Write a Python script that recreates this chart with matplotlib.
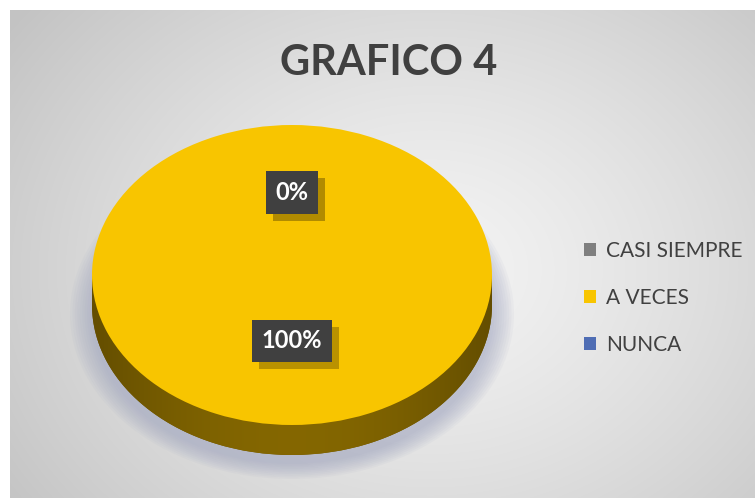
import numpy as np
import matplotlib.pyplot as plt
from matplotlib.patches import Ellipse, Rectangle
from matplotlib.path import Path
import matplotlib.patheffects as pe

# Datos del gráfico
categorias = ['CASI SIEMPRE', 'A VECES', 'NUNCA']
valores = [0, 100, 0]
colores = ['#7F7F7F', '#F8C500', '#4F6DB4']
titulo = 'GRAFICO 4'

W, H = 755, 498
fig = plt.figure(figsize=(W / 100, H / 100), dpi=100)
fig.patch.set_facecolor('white')

# Fondo con degradado radial (estilo Excel)
bg = fig.add_axes([10 / W, 0, (W - 10) / W, (H - 10) / H])
yy, xx = np.mgrid[0:488, 0:745]
d = np.sqrt(((xx - 420) / 520.0) ** 2 + ((yy - 260) / 420.0) ** 2)
d = np.clip(d, 0, 1)
g = 0.955 - 0.19 * d ** 1.3
bg.imshow(np.dstack([g, g, g]), aspect='auto', extent=[0, 745, 488, 0])
bg.set_axis_off()

# Ejes para la torta (elipse: 400 px de ancho, 300 px de alto + 30 px de grosor)
px_l, px_r, px_t, px_b = 92, 492, 125, 455
ax = fig.add_axes([px_l / W, 1 - px_b / H, (px_r - px_l) / W, (px_b - px_t) / H])
grosor = 0.2

# Sombra difusa
for i in range(10):
    k = i / 9
    sh = Ellipse((0.0, -grosor - 0.06), 2.0 + 0.22 * (1 - k), 2.0 + 0.2 * (1 - k),
                 facecolor='#9aa0bd', edgecolor='none', alpha=0.07, zorder=1, clip_on=False)
    ax.add_patch(sh)

# Lado 3D
lado, _ = ax.pie(valores, colors=['#6e5400'] * 3, startangle=90, counterclock=False,
                 center=(0, -grosor), radius=1)
for w in lado:
    w.set_zorder(2)
rect = Rectangle((-1, -grosor), 2, grosor, facecolor='#6e5400', edgecolor='none', zorder=2)
ax.add_patch(rect)
# degradado del lado
gx = np.linspace(-1, 1, 200)
shade = 0.5 + 0.22 * np.cos(gx * np.pi / 2.3)
img = np.zeros((2, 200, 3))
img[:, :, 0] = 0.72 * shade
img[:, :, 1] = 0.56 * shade
im = ax.imshow(img, extent=[-1, 1, -1 - grosor, 0], aspect='auto', zorder=3)
th = np.linspace(np.pi, 2 * np.pi, 100)
clip_verts = list(zip(np.cos(th), np.sin(th) - grosor)) + list(zip(np.cos(th[::-1]), np.zeros(100)))
im.set_clip_path(Path(clip_verts), ax.transData)

# Cara superior
wedges, textos, autotextos = ax.pie(valores, colors=colores, startangle=90, counterclock=False,
                                    radius=1, autopct='%1.0f%%', pctdistance=0.55,
                                    textprops=dict(color='white', fontsize=17, fontweight='bold',
                                                   family='Lato'))
for w in wedges:
    w.set_zorder(4)
for t in textos:
    t.set_visible(False)
for t in autotextos:
    t.set_zorder(6)
    if t.get_text() == '100%':
        x, y = t.get_position()
        t.set_position((x, y * 0.8))
    t.set_bbox(dict(boxstyle='square,pad=0.42', facecolor='#404040', edgecolor='none'))
    t.get_bbox_patch().set_path_effects([
        pe.SimplePatchShadow(offset=(5, -5), shadow_rgbFace='#b08a00', alpha=0.85),
        pe.Normal()])
ax.set_aspect('auto')
ax.set_xlim(-1, 1)
ax.set_ylim(-1 - grosor, 1)
ax.set_axis_off()

# Título
fig.text(389 / W, 1 - 63 / H, titulo, ha='center', va='center', fontsize=30,
         fontweight='bold', color='#404040', family='Lato')

# Leyenda
leg = fig.legend(wedges, categorias, loc='center left', bbox_to_anchor=(565 / W, 1 - 298 / H),
                 frameon=False, handlelength=0.6, handleheight=0.6,
                 handletextpad=0.45, labelspacing=1.3, prop=dict(family='Lato', size=15))
for t in leg.get_texts():
    t.set_color('#404040')

fig.savefig('out.png', dpi=100)
